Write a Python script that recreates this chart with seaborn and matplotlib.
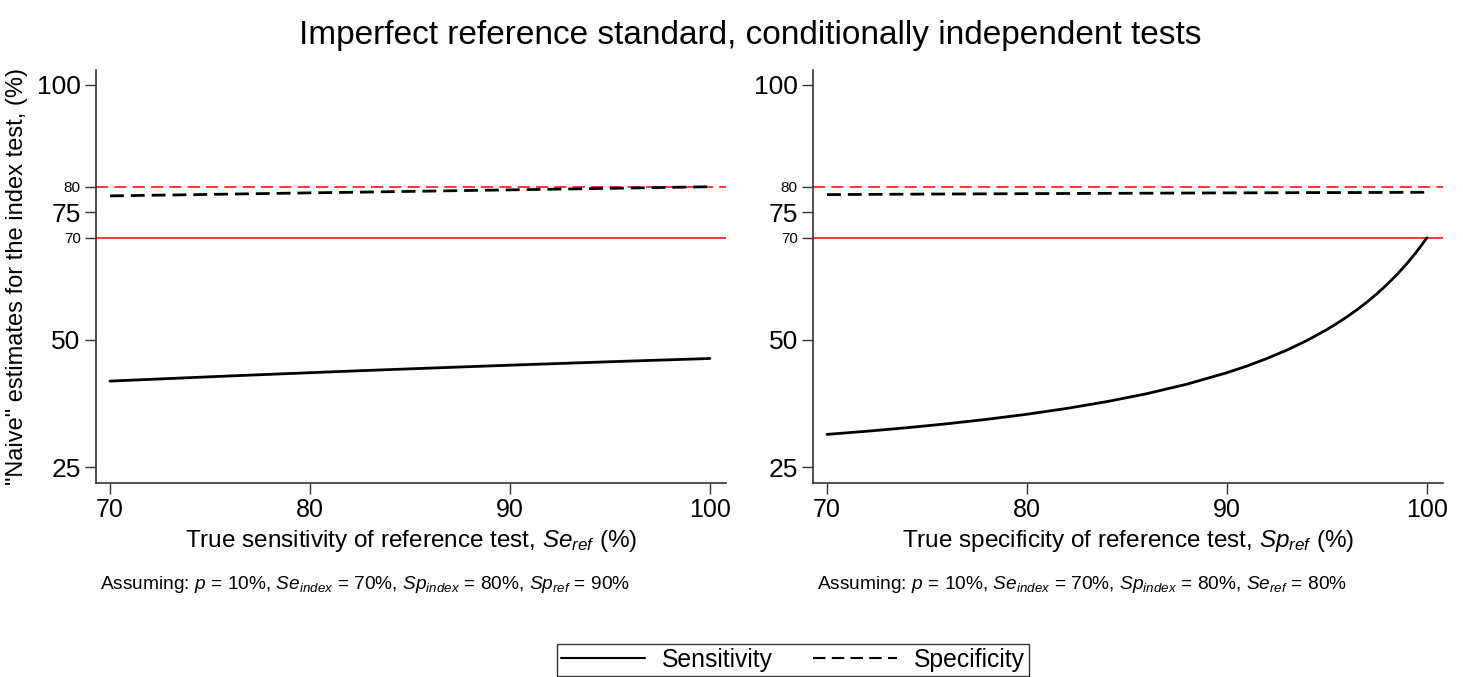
import pandas as pd
import matplotlib.pyplot as plt
from matplotlib.lines import Line2D
import seaborn as sns

# --- values (percent) ---
ref_values = [70, 72, 74, 76, 78, 80, 82, 84, 86, 88, 90, 91, 92, 93, 94, 95, 95.5,
              96, 96.5, 97, 97.5, 98, 98.5, 99, 99.5, 100]

# left panel: varying Se_ref
left_sens = [41.88, 42.22, 42.56, 42.89, 43.21, 43.53, 43.84, 44.14, 44.43, 44.72,
             45.00, 45.14, 45.27, 45.41, 45.54, 45.68, 45.74, 45.81, 45.87, 45.94,
             46.00, 46.06, 46.13, 46.19, 46.25, 46.32]
left_spec = [78.21, 78.33, 78.44, 78.56, 78.68, 78.80, 78.91, 79.03, 79.15, 79.27,
             79.39, 79.45, 79.51, 79.57, 79.63, 79.69, 79.72, 79.75, 79.79, 79.82,
             79.85, 79.88, 79.91, 79.94, 79.97, 80.00]

# right panel: varying Sp_ref
right_sens = [31.43, 32.05, 32.74, 33.51, 34.39, 35.38, 36.53, 37.86, 39.42, 41.28,
              43.53, 44.84, 46.32, 47.97, 49.85, 52.00, 53.20, 54.48, 55.87, 57.38,
              59.02, 60.82, 62.78, 64.94, 67.34, 70.00]
right_spec = [78.46, 78.50, 78.54, 78.58, 78.61, 78.65, 78.68, 78.71, 78.74, 78.77,
              78.80, 78.81, 78.82, 78.83, 78.85, 78.86, 78.86, 78.87, 78.87, 78.88,
              78.88, 78.89, 78.90, 78.90, 78.91, 78.91]

true_se_index = 70
true_sp_index = 80

big_yticks = [25, 50, 75, 100]
small_yticks = [70, 80]
xticks = [70, 80, 90, 100]

sns.set_style('ticks')
plt.rcParams['font.family'] = ['Liberation Sans', 'DejaVu Sans']
plt.rcParams['mathtext.fontset'] = 'custom'
plt.rcParams['mathtext.rm'] = 'Liberation Sans'
plt.rcParams['mathtext.it'] = 'Liberation Sans:italic'
for k in ['text.color', 'axes.labelcolor', 'xtick.color', 'ytick.color']:
    plt.rcParams[k] = 'black'


def long_df(sens, spec):
    return pd.DataFrame({
        'ref': ref_values * 2,
        'value': sens + spec,
        'measure': ['Sensitivity'] * len(sens) + ['Specificity'] * len(spec),
    })


fig = plt.figure(figsize=(14.63, 6.77), dpi=100)
ax_l = fig.add_axes([0.0656, 0.2866, 0.4306, 0.610])
ax_r = fig.add_axes([0.5557, 0.2866, 0.4306, 0.610])

panels = [
    (ax_l, long_df(left_sens, left_spec),
     'True sensitivity of reference test, $\\mathit{Se}_{\\mathit{ref}}$ (%)',
     'Assuming: $\\mathit{p}$ = 10%, $\\mathit{Se}_{\\mathit{index}}$ = 70%, '
     '$\\mathit{Sp}_{\\mathit{index}}$ = 80%, $\\mathit{Sp}_{\\mathit{ref}}$ = 90%'),
    (ax_r, long_df(right_sens, right_spec),
     'True specificity of reference test, $\\mathit{Sp}_{\\mathit{ref}}$ (%)',
     'Assuming: $\\mathit{p}$ = 10%, $\\mathit{Se}_{\\mathit{index}}$ = 70%, '
     '$\\mathit{Sp}_{\\mathit{index}}$ = 80%, $\\mathit{Se}_{\\mathit{ref}}$ = 80%'),
]

for ax, d, xlabel, note in panels:
    ax.axhline(true_sp_index, color='#ff0000', lw=1.1, dashes=(8, 4), zorder=1)
    ax.axhline(true_se_index, color='#ff0000', lw=1.1, zorder=1)
    sns.lineplot(data=d, x='ref', y='value', style='measure',
                 dashes={'Sensitivity': '', 'Specificity': (5, 2.5)},
                 color='black', lw=2, legend=False, ax=ax, zorder=3)
    ax.set_xlim(69.3, 100.8)
    ax.set_ylim(21.9, 102.9)
    ax.set_xticks(xticks)
    ax.set_xticklabels([str(t) for t in xticks], fontsize=18)
    yt = sorted(big_yticks + small_yticks)
    ax.set_yticks(yt)
    ax.set_yticklabels([str(t) for t in yt])
    for lab, t in zip(ax.get_yticklabels(), yt):
        lab.set_fontsize(11 if t in small_yticks else 19)
    ax.tick_params(axis='both', length=8, width=1, color='#333333', pad=3)
    ax.set_xlabel(xlabel, fontsize=17.5, labelpad=4)
    ax.set_ylabel('')
    sns.despine(ax=ax)
    for s in ['left', 'bottom']:
        ax.spines[s].set_linewidth(1.2)
        ax.spines[s].set_color('#333333')
    ax.text(0.006, -0.245, note, transform=ax.transAxes,
            fontsize=13.8, ha='left', va='center')

ax_l.set_ylabel('"Naive" estimates for the index test, (%)', fontsize=17, labelpad=6)

fig.suptitle('Imperfect reference standard, conditionally independent tests',
             x=0.5127, y=0.97, fontsize=24)

handles = [Line2D([], [], color='black', lw=1.5),
           Line2D([], [], color='black', lw=1.5, dashes=(6, 3))]
fig.legend(handles, ['Sensitivity', 'Specificity'], loc='upper center',
           bbox_to_anchor=(793 / 1463, 1 - 632 / 677), ncol=2, fontsize=17.8,
           frameon=True, fancybox=False, edgecolor='#333333', framealpha=1,
           handlelength=3.4, columnspacing=1.6, handletextpad=0.7,
           borderpad=0.15)

fig.savefig('out.png', dpi=100)
